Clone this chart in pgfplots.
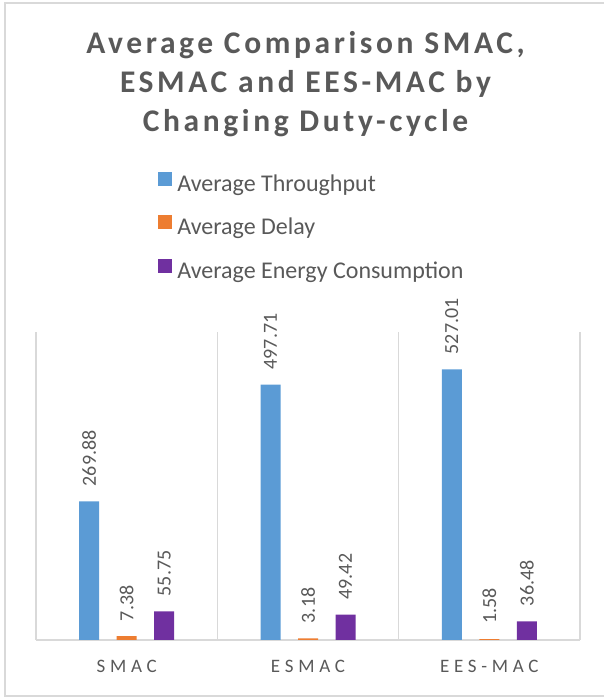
\documentclass[border=0pt]{standalone}
\usepackage{fontspec}
\setmainfont{Carlito}
\usepackage{pgfplots}
\pgfplotsset{compat=1.18}

\definecolor{thrBlue}{HTML}{5B9BD5}
\definecolor{delOrange}{HTML}{ED7D31}
\definecolor{engPurple}{HTML}{7030A0}
\definecolor{txtGray}{HTML}{595959}
\definecolor{lineGray}{HTML}{D9D9D9}

\begin{document}
\begin{tikzpicture}[x=1pt,y=1pt]
\useasboundingbox (0,0) rectangle (604,697);
% chart frame (open on the right, where the page ends)
\draw[lineGray, line width=1.3pt] (620,694) -- (5,694) -- (5,1) -- (620,1);

% title
\node[anchor=base, text=txtGray, inner sep=0pt] at (305.5,643)
  {\fontsize{31.5}{39}\selectfont\bfseries\addfontfeature{LetterSpace=11.5}Average Comparison SMAC,};
\node[anchor=base, text=txtGray, inner sep=0pt] at (305.5,604.7)
  {\fontsize{31.5}{39}\selectfont\bfseries\addfontfeature{LetterSpace=11.5}ESMAC and EES-MAC by};
\node[anchor=base, text=txtGray, inner sep=0pt] at (305.5,565.3)
  {\fontsize{31.5}{39}\selectfont\bfseries\addfontfeature{LetterSpace=11.5}Changing Duty-cycle};

\begin{axis}[
  at={(36pt,57pt)}, anchor=south west,
  scale only axis, width=544pt, height=308pt,
  ybar=17.5pt, bar width=20pt,
  xmin=-0.5, xmax=2.5, ymin=0, ymax=600,
  enlargelimits=false,
  axis x line=bottom, axis y line=none,
  x axis line style={-, draw=lineGray, line width=1.3pt},
  xtick={0,1,2},
  xticklabels={SMAC,ESMAC,EES-MAC},
  major tick length=0pt,
  xticklabel style={anchor=base, yshift=-33pt, text=txtGray,
    font=\fontsize{19}{22}\selectfont\addfontfeature{LetterSpace=25}},
  extra x ticks={-0.5,0.5,1.5,2.5},
  extra x tick labels={},
  extra x tick style={grid=major, major grid style={draw=lineGray, line width=1.3pt}},
  /pgf/number format/assume math mode=true,
  nodes near coords={\pgfmathprintnumber[fixed,fixed zerofill,precision=2]{\pgfplotspointmeta}},
  nodes near coords style={rotate=90, anchor=west, inner xsep=15pt, inner ysep=0pt,
    text=txtGray, font=\fontsize{20}{24}\selectfont},
  legend style={at={(rel axis cs:0.2248,1.52)}, anchor=north west,
    draw=none, fill=none, inner sep=0pt, outer sep=0pt,
    row sep=19pt, column sep=5pt,
    nodes={inner sep=0pt, text height=16pt, text depth=5pt, text=txtGray,
      font=\fontsize{24}{28}\selectfont}},
  legend cell align=left,
  legend image code/.code={\fill[#1] (0pt,0pt) rectangle (14pt,14pt);},
]
\addplot[fill=thrBlue, draw=none] coordinates {(0,269.88) (1,497.71) (2,527.01)};
\addplot[fill=delOrange, draw=none] coordinates {(0,7.38) (1,3.18) (2,1.58)};
\addplot[fill=engPurple, draw=none] coordinates {(0,55.75) (1,49.42) (2,36.48)};
\legend{Average Throughput, Average Delay, Average Energy Consumption}
\end{axis}
\end{tikzpicture}
\end{document}
